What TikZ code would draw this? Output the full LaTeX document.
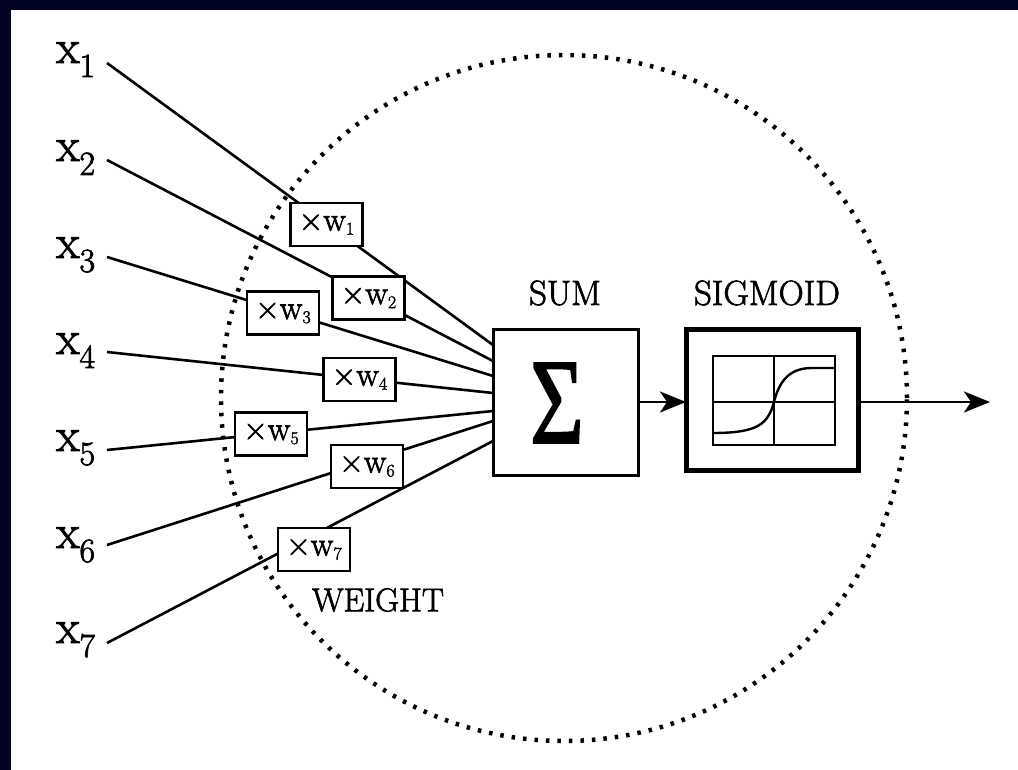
\documentclass[tikz,border=0pt]{standalone}
\usepackage{fontspec}
\setmainfont{Latin Modern Roman}[FakeBold=2]
\newfontfamily\heavyfont{Latin Modern Roman}[FakeBold=2]
\newfontfamily\sigmafont{Liberation Serif}[FakeBold=1.5]
\usetikzlibrary{arrows.meta,calc}
\definecolor{navy}{RGB}{3,3,38}
\newcommand\xlab[1]{{\fontsize{48}{48}\heavyfont x}\raisebox{-14pt}{\fontsize{34}{34}\heavyfont #1}}
\newcommand\wlab[1]{×w\raisebox{-4pt}{\fontsize{18}{18}\heavyfont #1}}
\begin{document}
\begin{tikzpicture}[x=1pt,y=-1pt,
  wbox/.style={draw, line width=2.6pt, fill=white, minimum width=72pt, minimum height=43pt,
    inner sep=0pt, outer sep=0pt, font=\fontsize{34}{34}\heavyfont},
  conn/.style={line width=2.6pt},
  lbl/.style={anchor=base west, inner sep=0pt},
  capt/.style={inner sep=0pt, font=\fontsize{35}{35}\heavyfont},
  arr/.style={line width=2.6pt, -{Stealth[length=26pt,width=21pt,inset=7pt]}},
  plot/.style={line width=2.2pt}
]
\fill[navy] (0,0) rectangle (1018,770);
\fill[white] (11,10) rectangle (1018,770);
\useasboundingbox (0,0) rectangle (1018,770);

% dotted neuron boundary
\draw[line width=4.5pt, dash pattern=on 3.5pt off 8pt] (564,398) circle[radius=343pt];

% input labels
\node[lbl] (x1) at (56,63)  {\xlab{1}};
\node[lbl] (x2) at (56,161) {\xlab{2}};
\node[lbl] (x3) at (56,258) {\xlab{3}};
\node[lbl] (x4) at (56,354) {\xlab{4}};
\node[lbl] (x5) at (56,451) {\xlab{5}};
\node[lbl] (x6) at (56,548) {\xlab{6}};
\node[lbl] (x7) at (56,643) {\xlab{7}};

% line start / end points
\coordinate (s1) at (107,63);  \coordinate (e1) at (493,345);
\coordinate (s2) at (107,160); \coordinate (e2) at (493,361);
\coordinate (s3) at (107,257); \coordinate (e3) at (493,376);
\coordinate (s4) at (107,352); \coordinate (e4) at (493,393);
\coordinate (s5) at (107,450); \coordinate (e5) at (493,411);
\coordinate (s6) at (107,545); \coordinate (e6) at (493,421);
\coordinate (s7) at (107,643); \coordinate (e7) at (493,441);

\foreach \i in {1,...,7} { \draw[conn] (s\i) -- (e\i); }

% weight boxes
\node[wbox] (w1) at (326.5,224.5) {\wlab{1}};
\node[wbox] (w2) at (368.5,298)   {\wlab{2}};
\node[wbox] (w3) at (283,313)     {\wlab{3}};
\node[wbox] (w4) at (359.5,379.5) {\wlab{4}};
\node[wbox] (w5) at (271,434)     {\wlab{5}};
\node[wbox] (w6) at (367,466.5)   {\wlab{6}};
\node[wbox] (w7) at (314,549.5)   {\wlab{7}};

\node[capt, font=\fontsize{33}{33}\heavyfont] (weight) at (378,600) {WEIGHT};

% sum box
\node[draw, line width=3pt, fill=white, minimum width=145pt, minimum height=146pt,
  inner sep=0pt, outer sep=0pt] (sum) at (565.5,402) {};
\node[inner sep=0pt, font=\fontsize{122}{122}\sigmafont] (sigma) at (557,403)
  {\scalebox{0.76}[1]{Σ}};
\node[capt] (sumlab) at (565,293) {SUM};

% sigmoid box
\node[draw, line width=5pt, fill=white, minimum width=172pt, minimum height=141pt,
  inner sep=0pt, outer sep=0pt] (sigm) at (772,400) {};
\node[capt] (sigmlab) at (767,293) {SIGMOID};
\draw[plot] (713,356) rectangle (835,445);
\draw[plot] (713,402) -- (835,402);
\draw[plot] (774,356) -- (774,445);
\draw[line width=2.4pt] (713,433) .. controls (758,433) and (768,424) .. (774,402)
  .. controls (780,378) and (792,368) .. (812,368) -- (835,368);

% arrows
\coordinate (out) at (990,402);
\draw[arr] (sum.east) -- (sum.east -| sigm.west);
\draw[arr] (sigm.east |- sum.east) -- (out);
\end{tikzpicture}
\end{document}
